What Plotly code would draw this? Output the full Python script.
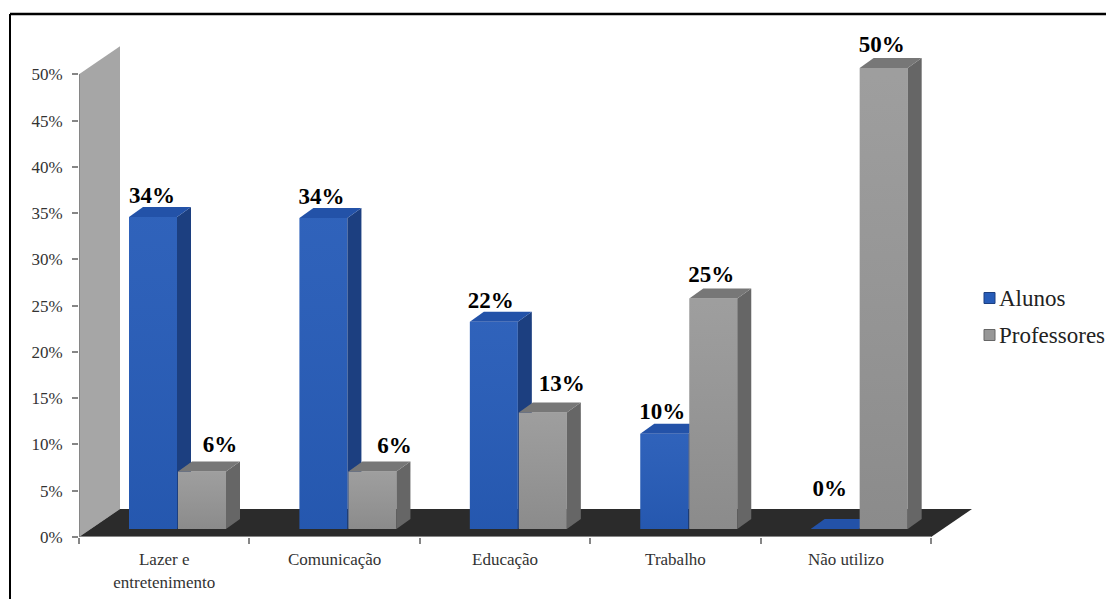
import plotly.graph_objects as go

categories = ["Lazer e<br>entretenimento", "Comunicação", "Educação", "Trabalho", "Não utilizo"]
alunos = [33.7, 33.6, 22.4, 10.3, 0]
professores = [6.2, 6.2, 12.6, 24.9, 49.8]
y_ticks = [0, 5, 10, 15, 20, 25, 30, 35, 40, 45, 50]
series_names = ["Alunos", "Professores"]

# layout constants (pixels)
W, H = 1106, 599
L, T, R, B = 79, 28, 134, 62
PW, PH = W - L - R, H - T - B
XMAX, YMAX = 5.24, 55.0
PX_X = PW / XMAX
PX_Y = PH / YMAX

def dx(px): return px / PX_X
def dy(px): return px / PX_Y
def px_paper_x(px): return (px - L) / PW
def px_paper_y(px): return (H - B - px) / PH

BASE = dy(8)
BAR_W = dx(48)
DEPTH_X, DEPTH_Y = dx(14), dy(10)
WALL_X, WALL_Y = dx(41), dy(28)
OFFSET = [dx(50), dx(99)]

BLUE = dict(front="#275cb8", side="#1c3f80", top="#2352a8", edge_l="rgba(255,255,255,0.04)", edge_d="rgba(0,0,0,0.05)")
GRAY = dict(front="#979797", side="#666666", top="#777777", edge_l="rgba(255,255,255,0.07)", edge_d="rgba(0,0,0,0.08)")

# label nudges relative to the front face centre / back top edge (pixels)
label_dx = [[-1, -2, -3, -2, -5], [18, 22, 19, -2, -2]]
label_dy = [[10, 10, 9, 10, 29], [15, 14, 17, 12, 12]]

fig = go.Figure()

def poly(xs, ys, color, xa, ya, **kw):
    fig.add_trace(go.Scatter(x=xs, y=ys, mode="lines", fill="toself", fillcolor=color,
                             line=dict(width=0, color=color), hoverinfo="skip",
                             showlegend=False, xaxis=xa, yaxis=ya, **kw))

for s, (name, vals, pal) in enumerate(zip(series_names, [alunos, professores], [BLUE, GRAY])):
    xa, ya = ("x", "y") if s == 0 else ("x2", "y2")
    fig.add_trace(go.Bar(x=[i + OFFSET[s] + BAR_W / 2 for i in range(5)], y=vals, base=BASE, width=BAR_W,
                         marker=dict(color=pal["front"], line=dict(width=0)), name=name,
                         showlegend=False, xaxis=xa, yaxis=ya))
    for i, v in enumerate(vals):
        x0 = i + OFFSET[s]
        x1 = x0 + BAR_W
        top = BASE + v
        if v > 0:
            # soft vertical shading on the front face
            fig.add_trace(go.Scatter(x=[x0, x1, x1, x0, x0], y=[BASE, BASE, top, top, BASE], mode="lines",
                                     fill="toself", line=dict(width=0), hoverinfo="skip", showlegend=False,
                                     fillgradient=dict(type="vertical",
                                                       colorscale=[[0, pal["edge_d"]], [1, pal["edge_l"]]]),
                                     xaxis=xa, yaxis=ya))
            poly([x1, x1 + DEPTH_X, x1 + DEPTH_X, x1, x1],
                 [BASE, BASE + DEPTH_Y, top + DEPTH_Y, top, BASE], pal["side"], xa, ya)
        poly([x0, x1, x1 + DEPTH_X, x0 + DEPTH_X, x0],
             [top, top, top + DEPTH_Y, top + DEPTH_Y, top], pal["top"], xa, ya)

# value labels
for s, vals in enumerate([alunos, professores]):
    fig.add_trace(go.Scatter(
        x=[i + OFFSET[s] + BAR_W / 2 + dx(label_dx[s][i]) for i in range(5)],
        y=[BASE + v + DEPTH_Y + dy(label_dy[s][i]) for i, v in enumerate(vals)],
        mode="text", text=[f"{v:.0f}%" for v in vals], textposition="middle center",
        textfont=dict(family="Liberation Serif", size=23, color="#000000", weight="bold"),
        cliponaxis=False, hoverinfo="skip", showlegend=False, xaxis="x2", yaxis="y2"))

AXIS_GRAY = "#868686"
shapes = [
    # back wall
    dict(type="path", layer="below", xref="x", yref="y", line=dict(width=0), fillcolor="#a6a6a6",
         path=f"M 0 0 L {WALL_X} {WALL_Y} L {WALL_X} {y_ticks[-1] + WALL_Y} L 0 {y_ticks[-1]} Z"),
    # floor
    dict(type="path", layer="below", xref="x", yref="y", line=dict(width=0), fillcolor="#2b2b2b",
         path=f"M 0 0 L 5 0 L {5 + WALL_X} {WALL_Y} L {WALL_X} {WALL_Y} Z"),
    # axis lines
    dict(type="line", layer="above", xref="x", yref="y", x0=0, x1=0, y0=0, y1=y_ticks[-1],
         line=dict(color=AXIS_GRAY, width=2)),
    dict(type="line", layer="above", xref="x", yref="y", x0=0, x1=5, y0=0, y1=0,
         line=dict(color=AXIS_GRAY, width=2)),
    # outer frame
    dict(type="line", xref="paper", yref="paper", x0=px_paper_x(10), x1=px_paper_x(1106),
         y0=px_paper_y(14), y1=px_paper_y(14), line=dict(color="#000000", width=2.5)),
    dict(type="line", xref="paper", yref="paper", x0=px_paper_x(10), x1=px_paper_x(10),
         y0=px_paper_y(14), y1=px_paper_y(599), line=dict(color="#000000", width=2)),
]

# legend
annotations = []
legend_y = [298, 335]
for name, ly, pal in zip(series_names, legend_y, [BLUE, GRAY]):
    shapes.append(dict(type="rect", xref="paper", yref="paper",
                       x0=px_paper_x(984), x1=px_paper_x(995), y0=px_paper_y(ly - 5.5), y1=px_paper_y(ly + 5.5),
                       fillcolor=pal["front"], line=dict(color=pal["side"], width=1)))
    annotations.append(dict(text=name, xref="paper", yref="paper", x=px_paper_x(997), y=px_paper_y(ly),
                            xanchor="left", yanchor="middle", showarrow=False,
                            font=dict(family="Liberation Serif", size=23, color="#222222")))

axis_common = dict(range=[0, XMAX], fixedrange=True, showgrid=False, zeroline=False, showline=False,
                   automargin=False)
fig.update_layout(
    width=W, height=H, autosize=False,
    margin=dict(l=L, r=R, t=T, b=B, pad=0, autoexpand=False),
    paper_bgcolor="#ffffff", plot_bgcolor="rgba(0,0,0,0)",
    barmode="overlay", showlegend=False,
    shapes=shapes, annotations=annotations,
    font=dict(family="Liberation Serif", color="#333333"),
    xaxis=dict(**axis_common, tickmode="array", tickvals=[i + 0.5 for i in range(5)], ticktext=categories,
               ticks="outside", ticklen=0, ticklabelstandoff=7, tickfont=dict(size=17, color="#333333"),
               minor=dict(tickmode="array", tickvals=list(range(6)), ticks="outside", ticklen=6,
                          tickcolor=AXIS_GRAY, tickwidth=2)),
    yaxis=dict(range=[0, YMAX], fixedrange=True, showgrid=False, zeroline=False, showline=False,
               automargin=False,
               tickmode="array", tickvals=y_ticks, ticktext=[f"{t}%" for t in y_ticks],
               ticks="outside", ticklen=6, tickcolor=AXIS_GRAY, tickwidth=2,
               ticklabelstandoff=6, tickfont=dict(size=17, color="#333333")),
    xaxis2=dict(**axis_common, overlaying="x", visible=False),
    yaxis2=dict(range=[0, YMAX], fixedrange=True, overlaying="y", visible=False, automargin=False),
)

fig.write_html("out.html", config=dict(displayModeBar=False), post_script="document.body.style.margin='0';")
